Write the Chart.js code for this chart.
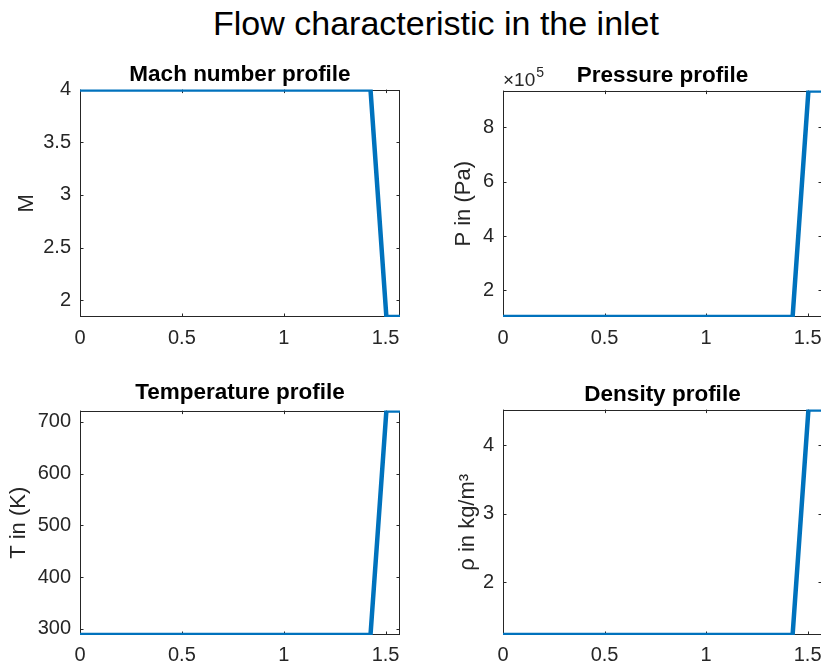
<!DOCTYPE html>
<html>
<head>
<meta charset="utf-8">
<script src="https://cdn.jsdelivr.net/npm/chart.js@4.4.1/dist/chart.umd.min.js"></script>
<style>
  html, body { margin: 0; padding: 0; background: #fff; overflow: hidden; }
  #wrap { position: relative; width: 821px; height: 668px; overflow: hidden; }
  #mainTitle { position: absolute; left: 436px; top: 6px; transform: translateX(-50%);
    font-family: "Liberation Sans", Arial, sans-serif; font-size: 34px; line-height: 34px;
    white-space: nowrap; color: #000; }
  canvas { position: absolute; }
</style>
</head>
<body>
<div id="wrap">
  <div id="mainTitle">Flow characteristic in the inlet</div>
  <canvas id="cM" width="420" height="310" style="left:0px;top:50px"></canvas>
  <canvas id="cP" width="440" height="310" style="left:420px;top:50px"></canvas>
  <canvas id="cT" width="420" height="298" style="left:0px;top:370px"></canvas>
  <canvas id="cR" width="440" height="298" style="left:420px;top:370px"></canvas>
</div>
<script>
// ---- data ----
const xPos        = [0, 1.426, 1.504, 1.5708];
const mach        = [4, 4, 1.84, 1.84];
const pressure    = [101325, 101325, 936000, 936000];
const temperature = [288.15, 288.15, 722, 722];
const density     = [1.225, 1.225, 4.52, 4.52];

// ---- tick labels ----
const xTicks        = [0, 0.5, 1, 1.5];
const machTicks     = [2, 2.5, 3, 3.5, 4];
const pressureTicks = [2e5, 4e5, 6e5, 8e5];
const tempTicks     = [300, 400, 500, 600, 700];
const densityTicks  = [2, 3, 4];

const FONT = '"Liberation Sans", Arial, sans-serif';
const AX = '#262626';
const LINE = '#0072BD';

const boxPlugin = {
  id: 'matlabBox',
  beforeDatasetsDraw(chart) {
    const {ctx, chartArea: a, scales} = chart;
    ctx.save();
    ctx.strokeStyle = AX;
    ctx.lineWidth = 1;
    ctx.strokeRect(Math.round(a.left) + 0.5, Math.round(a.top) + 0.5,
                   Math.round(a.right - a.left) - 1, Math.round(a.bottom - a.top) - 1);
    const L = 3.5;
    ctx.beginPath();
    scales.x.ticks.forEach(t => {
      const px = Math.round(scales.x.getPixelForValue(t.value)) + 0.5;
      ctx.moveTo(px, a.bottom); ctx.lineTo(px, a.bottom - L);
      ctx.moveTo(px, a.top); ctx.lineTo(px, a.top + L);
    });
    scales.y.ticks.forEach(t => {
      const py = Math.round(scales.y.getPixelForValue(t.value)) + 0.5;
      ctx.moveTo(a.left, py); ctx.lineTo(a.left + L, py);
      ctx.moveTo(a.right, py); ctx.lineTo(a.right - L, py);
    });
    ctx.stroke();
    ctx.restore();
  }
};

function makeChart(id, opt) {
  const pts = xPos.map((x, i) => ({x, y: opt.values[i]}));
  return new Chart(document.getElementById(id), {
    type: 'line',
    data: { datasets: [{ data: pts, borderColor: LINE, borderWidth: 4.5, pointRadius: 0,
                         tension: 0, fill: false }] },
    options: {
      responsive: false, animation: false, devicePixelRatio: 1,
      layout: { padding: { left: 0, right: opt.padRight, top: 0, bottom: 0 } },
      plugins: {
        legend: { display: false }, tooltip: { enabled: false },
        title: { display: true, text: opt.title, fullSize: false, color: '#000',
                 font: { family: FONT, size: 22.5, weight: 'bold' },
                 padding: { top: opt.tp, bottom: opt.tb } }
      },
      scales: {
        x: { type: 'linear', min: 0, max: 1.5708,
             afterBuildTicks: s => { s.ticks = xTicks.map(v => ({value: v})); },
             afterFit: s => { s.height = opt.xh; },
             grid: { display: false, drawTicks: false }, border: { display: false },
             ticks: { color: AX, font: { family: FONT, size: 20 }, padding: opt.xpad,
                      maxRotation: 0, autoSkip: false,
                      callback: v => String(v) } },
        y: { type: 'linear', min: Math.min(...opt.values), max: Math.max(...opt.values),
             afterBuildTicks: s => { s.ticks = opt.yTicks.map(v => ({value: v})); },
             afterFit: s => { s.width = opt.yw; },
             grid: { display: false, drawTicks: false }, border: { display: false },
             title: { display: true, text: opt.ylabel, color: AX,
                      font: { family: FONT, size: 22 }, padding: { top: opt.ytp, bottom: 0 } },
             ticks: { color: AX, font: { family: FONT, size: 20 }, padding: 9, autoSkip: false,
                      callback: opt.yfmt || (v => String(v)) } }
      }
    },
    plugins: [boxPlugin].concat(opt.extra || [])
  });
}

const expPlugin = {
  id: 'expLabel',
  afterDraw(chart) {
    const {ctx, chartArea: a} = chart;
    ctx.save();
    ctx.fillStyle = AX;
    ctx.textBaseline = 'alphabetic';
    ctx.textAlign = 'left';
    ctx.font = '19px ' + FONT;
    const base = '×10';
    ctx.fillText(base, a.left, a.top - 5);
    const w = ctx.measureText(base).width;
    ctx.font = '14px ' + FONT;
    ctx.fillText('5', a.left + w + 1, a.top - 14);
    ctx.restore();
  }
};

makeChart('cM', { values: mach, yTicks: machTicks, title: 'Mach number profile', ylabel: 'M',
  padRight: 20, tp: 11, tb: 1.6, xh: 43, yw: 80, ytp: 14, xpad: 9 });
makeChart('cP', { values: pressure, yTicks: pressureTicks, title: 'Pressure profile', ylabel: 'P in (Pa)',
  padRight: 38, tp: 11.8, tb: 1.8, xh: 43, yw: 83, ytp: 31, xpad: 9, yfmt: v => String(v / 1e5),
  extra: [expPlugin] });
makeChart('cT', { values: temperature, yTicks: tempTicks, title: 'Temperature profile', ylabel: 'T in (K)',
  padRight: 20, tp: 9.3, tb: 4.3, xh: 33, yw: 80, ytp: 6, xpad: 8 });
makeChart('cR', { values: density, yTicks: densityTicks, title: 'Density profile', ylabel: 'ρ in kg/m³',
  padRight: 38, tp: 10.8, tb: 1.8, xh: 33, yw: 83, ytp: 35, xpad: 8 });
</script>
</body>
</html>
